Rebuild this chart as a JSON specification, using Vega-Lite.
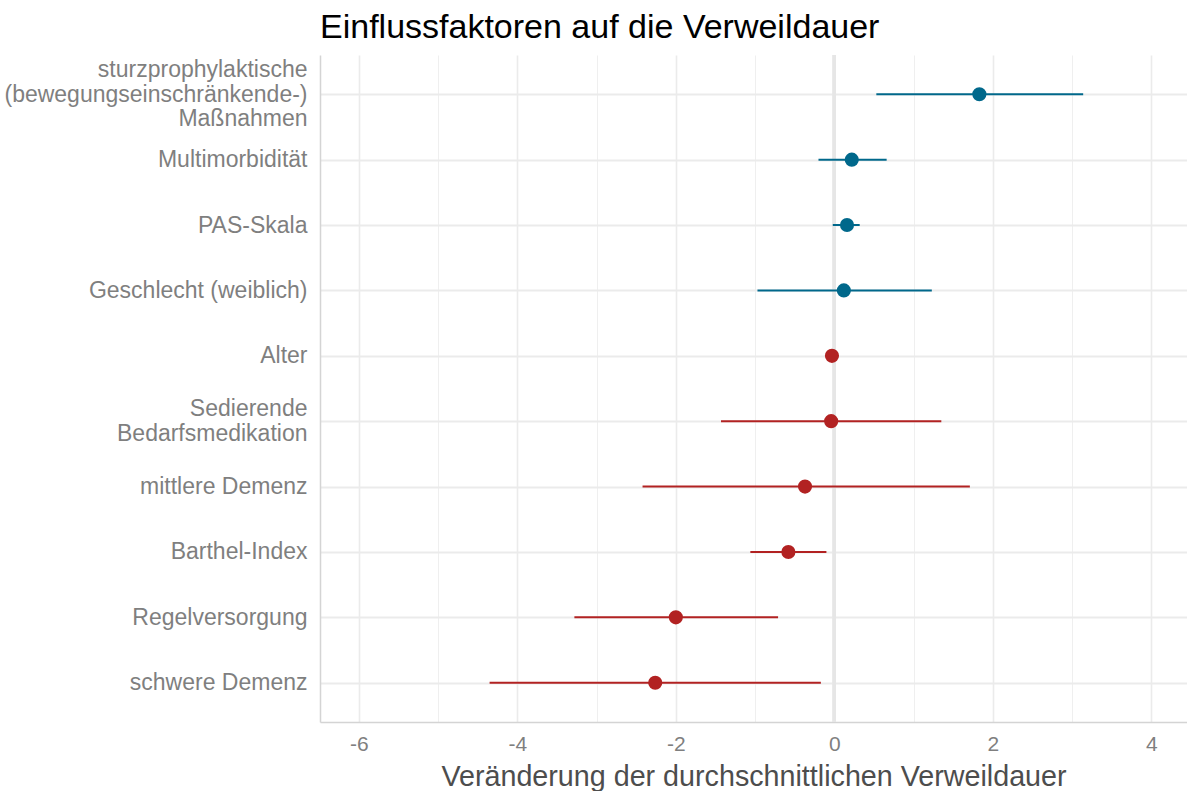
{
  "$schema": "https://vega.github.io/schema/vega-lite/v6.json",
  "width": 867,
  "height": 667,
  "autosize": {"type": "none"},
  "padding": {"left": 320, "top": 55, "right": 0, "bottom": 69},
  "background": "white",
  "title": {"text": "Einflussfaktoren auf die Verweildauer", "anchor": "start", "frame": "group", "font": "Liberation Sans", "fontSize": 34, "fontWeight": "normal", "color": "#000000", "baseline": "alphabetic", "offset": -18},
  "config": {"view": {"stroke": null}, "font": "Liberation Sans"},
  "data": {"values": [
    {"factor": "sturzprophylaktische|(bewegungseinschränkende-)|Maßnahmen", "est": 1.83, "lo": 0.53, "hi": 3.14, "dir": "pos"},
    {"factor": "Multimorbidität", "est": 0.22, "lo": -0.2, "hi": 0.66, "dir": "pos"},
    {"factor": "PAS-Skala", "est": 0.16, "lo": -0.02, "hi": 0.32, "dir": "pos"},
    {"factor": "Geschlecht (weiblich)", "est": 0.12, "lo": -0.97, "hi": 1.23, "dir": "pos"},
    {"factor": "Alter", "est": -0.03, "lo": -0.06, "hi": 0.0, "dir": "neg"},
    {"factor": "Sedierende|Bedarfsmedikation", "est": -0.04, "lo": -1.43, "hi": 1.35, "dir": "neg"},
    {"factor": "mittlere Demenz", "est": -0.37, "lo": -2.42, "hi": 1.71, "dir": "neg"},
    {"factor": "Barthel-Index", "est": -0.58, "lo": -1.06, "hi": -0.1, "dir": "neg"},
    {"factor": "Regelversorgung", "est": -2.0, "lo": -3.28, "hi": -0.71, "dir": "neg"},
    {"factor": "schwere Demenz", "est": -2.26, "lo": -4.35, "hi": -0.17, "dir": "neg"}
  ]},
  "layer": [
    {
      "mark": {"type": "rule", "color": "#e6e6e6", "strokeWidth": 3},
      "encoding": {
        "x": {"datum": 0, "type": "quantitative",
          "scale": {"domain": [-6.49, 4.45], "nice": false, "zero": false},
          "axis": {"title": "Veränderung der durchschnittlichen Verweildauer", "values": [-6, -5, -4, -3, -2, -1, 0, 1, 2, 3, 4], "labelExpr": "datum.value % 2 == 0 ? toString(datum.value) : ''", "labelOverlap": false, "grid": true, "gridColor": "#ebebeb", "gridWidth": {"condition": {"test": "datum.value % 2 == 0", "value": 1.6}, "value": 0.8}, "ticks": false, "tickSize": 0, "domainColor": "#d4d4d4", "domainWidth": 1.5, "labelFont": "Liberation Sans", "labelFontSize": 21, "labelColor": "#7f7f7f", "labelPadding": 11, "titleFont": "Liberation Sans", "titleFontSize": 28.7, "titleFontWeight": "normal", "titleColor": "#4d4d4d", "titlePadding": 8}
        }
      }
    },
    {
      "mark": {"type": "rule", "strokeWidth": 2},
      "encoding": {
        "y": {"field": "factor", "type": "nominal", "sort": null,
          "scale": {"type": "point", "padding": 0.6},
          "axis": {"title": null, "grid": true, "gridColor": "#ebebeb", "gridWidth": 1.8, "ticks": false, "tickSize": 0, "domainColor": "#d4d4d4", "domainWidth": 1.5, "labelFont": "Liberation Sans", "labelFontSize": 23, "labelColor": "#7f7f7f", "labelPadding": 13, "labelExpr": "split(datum.value, '|')", "labelLineHeight": 24.5, "labelLimit": 0,
            "labelOffset": {"condition": [{"test": "length(split(datum.value, '|')) == 3", "value": -24.5}, {"test": "length(split(datum.value, '|')) == 2", "value": -12.25}], "value": 0}}},
        "x": {"field": "lo", "type": "quantitative",
          "scale": {"domain": [-6.49, 4.45], "nice": false, "zero": false},
          "axis": {"title": "Veränderung der durchschnittlichen Verweildauer", "values": [-6, -5, -4, -3, -2, -1, 0, 1, 2, 3, 4], "labelExpr": "datum.value % 2 == 0 ? toString(datum.value) : ''", "labelOverlap": false, "grid": true, "gridColor": "#ebebeb", "gridWidth": {"condition": {"test": "datum.value % 2 == 0", "value": 1.6}, "value": 0.8}, "ticks": false, "tickSize": 0, "domainColor": "#d4d4d4", "domainWidth": 1.5, "labelFont": "Liberation Sans", "labelFontSize": 21, "labelColor": "#7f7f7f", "labelPadding": 11, "titleFont": "Liberation Sans", "titleFontSize": 28.7, "titleFontWeight": "normal", "titleColor": "#4d4d4d", "titlePadding": 8}},
        "x2": {"field": "hi"},
        "color": {"field": "dir", "type": "nominal", "scale": {"domain": ["pos", "neg"], "range": ["#00688B", "#B22222"]}, "legend": null}
      }
    },
    {
      "mark": {"type": "circle", "size": 200, "opacity": 1},
      "encoding": {
        "y": {"field": "factor", "type": "nominal", "sort": null},
        "x": {"field": "est", "type": "quantitative"},
        "color": {"field": "dir", "type": "nominal", "scale": {"domain": ["pos", "neg"], "range": ["#00688B", "#B22222"]}, "legend": null}
      }
    }
  ]
}
